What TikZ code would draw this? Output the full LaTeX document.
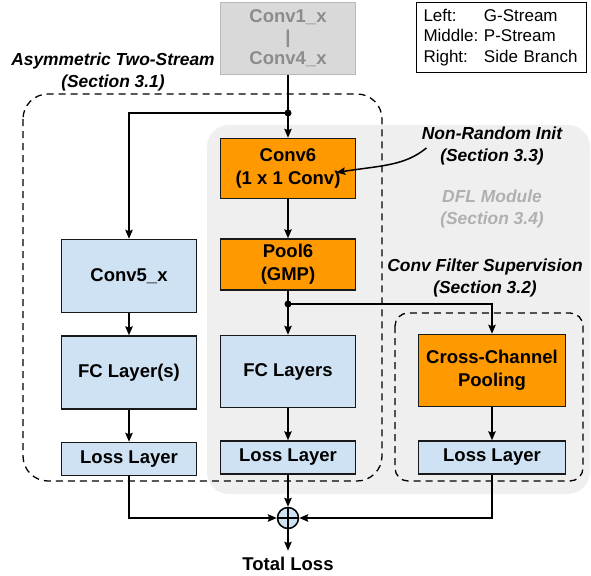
\documentclass[tikz,border=0pt]{standalone}
\usepackage{fontspec}
\setmainfont{Liberation Sans}
\usetikzlibrary{positioning, arrows.meta}
\definecolor{layerblue}{HTML}{CFE2F3}
\definecolor{layerorange}{HTML}{FF9900}
\definecolor{dflgray}{HTML}{EFEFEF}
\definecolor{basegray}{HTML}{D9D9D9}
\definecolor{basetext}{HTML}{8C8C8C}
\definecolor{dfltext}{HTML}{B0B0B0}
\tikzset{
layer/.style={draw=black!90, line width=1.5pt, fill=layerblue, align=center, inner sep=0pt,
  minimum width=135pt, font=\bfseries\fontsize{18.5}{23}\selectfont}, % every box of the network
orangelayer/.style={layer, fill=layerorange}, % the new DFL layers
losslayer/.style={layer, minimum height=33pt},
note/.style={font=\bfseries\itshape\fontsize{17.4}{21.5}\selectfont, align=center},
flow/.style={line width=1.5pt, -{Stealth[length=9pt,width=7.5pt,inset=1.5pt]}},
region/.style={line width=1.3pt, dash pattern=on 7pt off 5pt},
}

\begin{document}
\begin{tikzpicture}[x=1pt, y=-1pt]
        \useasboundingbox (0,0) rectangle (591,575);
        % DFL module and the dashed groups
        \fill[dflgray, rounded corners=22pt] (207,125) rectangle (590,494);
        \draw[region, rounded corners=25pt] (23,94) rectangle (382,481);
        \draw[region, rounded corners=13pt] (395,313) rectangle (583,481);

        \node[layer, fill=basegray, draw=black!28, text=basetext, minimum height=72pt,
              font=\bfseries\fontsize{18.5}{21}\selectfont] (conv14) at (288,38.5) {Conv1\_x\\|\\Conv4\_x};

        % P-Stream
        \node[orangelayer, minimum height=60pt] (conv6) at (288,168.5) {Conv6\\(1 x 1 Conv)};
        \node[orangelayer, minimum height=51pt, below=39pt of conv6] (pool6) {Pool6\\(GMP)};
        \node[layer, minimum height=72pt, below=44pt of pool6] (fcp) {FC Layers};
        \node[losslayer, below=32pt of fcp] (lossp) {Loss Layer};

        % G-Stream
        \node[layer, minimum height=73pt] (conv5) at (129,276) {Conv5\_x};
        \node[layer, minimum height=73pt, below=22pt of conv5] (fcg) {FC Layer(s)};
        \node[losslayer, below=32pt of fcg] (lossg) {Loss Layer};

        % side branch
        \node[orangelayer, minimum width=147pt, minimum height=72pt] (ccp) at (492,370.5) {Cross-Channel\\Pooling};
        \node[losslayer, minimum width=147pt, below=33pt of ccp] (losss) {Loss Layer};

        \node[circle, draw, line width=1.5pt, fill=layerblue, minimum size=21pt, inner sep=0pt,
              path picture={\draw[line width=1.2pt] (path picture bounding box.north) -- (path picture bounding box.south)
                (path picture bounding box.west) -- (path picture bounding box.east);}] (sum) at (288,518) {};
        \node[font=\bfseries\fontsize{18.5}{22}\selectfont] (total) at (288,564) {Total Loss};

        % labels
        \node[note] (asym) at (113,72) {Asymmetric Two-Stream\\(Section 3.1)};
        \node[note] (nri) at (492,146) {Non-Random Init\\(Section 3.3)};
        \node[note, text=dfltext] (dfl) at (492,209) {DFL Module\\(Section 3.4)};
        \node[note] (cfs) at (485,278) {Conv Filter Supervision\\(Section 3.2)};
        \node[draw, line width=1pt, anchor=north west, inner xsep=7pt, text width=156pt, minimum height=70pt,
              align=left, font=\fontsize{17}{20.5}\selectfont] (legend) at (416,2)
              {\begin{tabular}{@{}l@{\ }l@{}}Left: & G-Stream\\ Middle: & P-Stream\\ Right: & Side Branch\end{tabular}};

        \coordinate (split1) at (288,113);
        \coordinate (split2) at (288,304);
        \draw[flow] (conv14) -- (conv6);
        \draw[flow] (split1) -| (conv5);
        \draw[flow] (conv6) -- (pool6);
        \draw[flow] (pool6) -- (fcp);
        \draw[flow] (split2) -| (ccp);
        \draw[flow] (fcp) -- (lossp);
        \draw[flow] (conv5) -- (fcg);
        \draw[flow] (fcg) -- (lossg);
        \draw[flow] (ccp) -- (losss);
        \draw[flow] (lossg) |- (sum);
        \draw[flow] (losss) |- (sum);
        \draw[flow] (lossp) -- (sum);
        \draw[flow, shorten >=3pt] (sum) -- (total);
        \draw[flow] ([xshift=8pt, yshift=-2pt]nri.west) .. controls +(-22,18) and +(45,-7) .. ([xshift=-20pt, yshift=-4pt]conv6.east);
        \fill (split1) circle (3.5pt);
        \fill (split2) circle (3.5pt);
     \end{tikzpicture}
\end{document}
